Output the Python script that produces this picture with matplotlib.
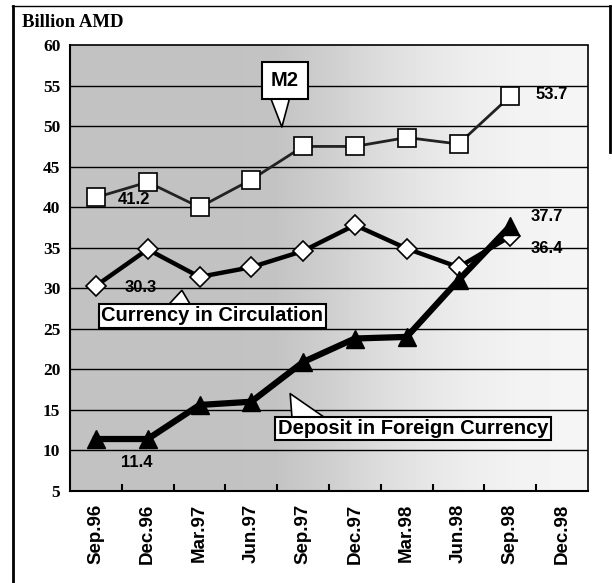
import numpy as np
import matplotlib.pyplot as plt
from matplotlib.lines import Line2D

periods = ["Sep.96", "Dec.96", "Mar.97", "Jun.97", "Sep.97", "Dec.97",
           "Mar.98", "Jun.98", "Sep.98", "Dec.98"]
m2 = [41.2, 43.1, 40.0, 43.4, 47.5, 47.5, 48.6, 47.8, 53.7]
currency = [30.3, 34.8, 31.4, 32.6, 34.6, 37.8, 34.9, 32.6, 36.4]
deposit = [11.4, 11.4, 15.6, 16.0, 20.9, 23.8, 24.0, 31.0, 37.7]
y_ticks = [5, 10, 15, 20, 25, 30, 35, 40, 45, 50, 55, 60]
# background shade from left (dark stipple) to right (light)
shade = [0.76, 0.76, 0.76, 0.76, 0.77, 0.81, 0.86, 0.90, 0.93, 0.95, 0.96]

fig = plt.figure(figsize=(6.12, 5.83), dpi=100)
ax = fig.add_axes([0.1144, 0.158, 0.8464, 0.7646])

x = np.arange(len(m2))
ax.set_xlim(-0.5, len(periods) - 0.5)
ax.set_ylim(5, 60)

bg = np.array(shade)[None, :]
ax.imshow(bg, cmap="gray", vmin=0, vmax=1, aspect="auto",
          extent=[-0.5, len(periods) - 0.5, 5, 60], interpolation="bilinear",
          zorder=0)

for yv in y_ticks[1:-1]:
    ax.axhline(yv, color="black", lw=1.0, zorder=1)

ax.plot(x, m2, color="#222222", lw=2.0, marker="s", ms=13, mfc="white",
        mec="black", mew=1.2, zorder=3)
ax.plot(x, currency, color="black", lw=3.2, marker="D", ms=10, mfc="white",
        mec="black", mew=1.2, zorder=4)
ax.plot(x, deposit, color="black", lw=4.5, marker="^", ms=13, mfc="black",
        mec="black", zorder=5)

ax.set_yticks(y_ticks)
ax.set_yticklabels([str(v) for v in y_ticks], family="Liberation Serif",
                   fontweight="bold", fontsize=12.5)
ax.set_xticks(x.tolist() + [9])
ax.set_xticklabels(periods, rotation=90, family="Liberation Sans",
                   fontweight="bold", fontsize=13.5)
ax.set_xticks(np.arange(0.5, len(periods) - 0.5, 1), minor=True)
ax.tick_params(axis="x", which="major", length=0, pad=9)
ax.tick_params(axis="x", which="minor", length=5, width=1.5, direction="in")
ax.tick_params(axis="y", length=0, pad=7)

for side in ["top", "right"]:
    ax.spines[side].set_linestyle((0, (1, 1)))
    ax.spines[side].set_linewidth(1.2)
ax.spines["left"].set_linewidth(1.5)
ax.spines["bottom"].set_linewidth(1.5)

lab = dict(family="Liberation Sans", fontweight="bold", fontsize=12,
           ha="center", va="center", zorder=6)
ax.text(0.74, 40.9, "41.2", **lab)
ax.text(0.87, 30.1, "30.3", **lab)
ax.text(0.79, 8.5, "11.4", **lab)
ax.text(8.79, 53.95, "53.7", **lab)
ax.text(8.71, 38.8, "37.7", **lab)
ax.text(8.71, 34.9, "36.4", **lab)

box = dict(boxstyle="square,pad=0.12", fc="white", ec="black", lw=1.5)
call = dict(family="Liberation Sans", fontweight="bold", fontsize=14.5,
            ha="center", va="center", zorder=7)


def wedge(rx, tw=1.9):
    return dict(arrowstyle=f"wedge,tail_width={tw},shrink_factor=0.5",
                fc="white", ec="black", lw=1.2, shrinkA=0, shrinkB=0,
                patchA=None, relpos=(rx, 0.5))


ax.annotate("M2", xy=(3.59, 49.9), xytext=(3.65, 55.6),
            bbox=dict(boxstyle="square,pad=0.45", fc="white", ec="black",
                      lw=1.5),
            arrowprops=wedge(0.3, 1.5), **call)
ax.annotate("Currency in Circulation", xy=(1.66, 29.75), xytext=(2.25, 26.6),
            bbox=box, arrowprops=wedge(0.35), **call)
ax.annotate("Deposit in Foreign Currency", xy=(3.75, 17.0),
            xytext=(6.12, 12.7), bbox=box, arrowprops=wedge(0.12), **call)

fig.text(0.036, 0.962, "Billion AMD", family="Liberation Serif",
         fontweight="bold", fontsize=13.5, ha="left", va="center")

# page frame
fig.add_artist(Line2D([0.02, 1.0], [0.99, 0.99], color="black", lw=1.0))
fig.add_artist(Line2D([0.021, 0.021], [0.0, 0.99], color="black", lw=2.0))
fig.add_artist(Line2D([0.996, 0.996], [0.74, 0.99], color="black", lw=2.0))

fig.savefig("out.png", dpi=100)
